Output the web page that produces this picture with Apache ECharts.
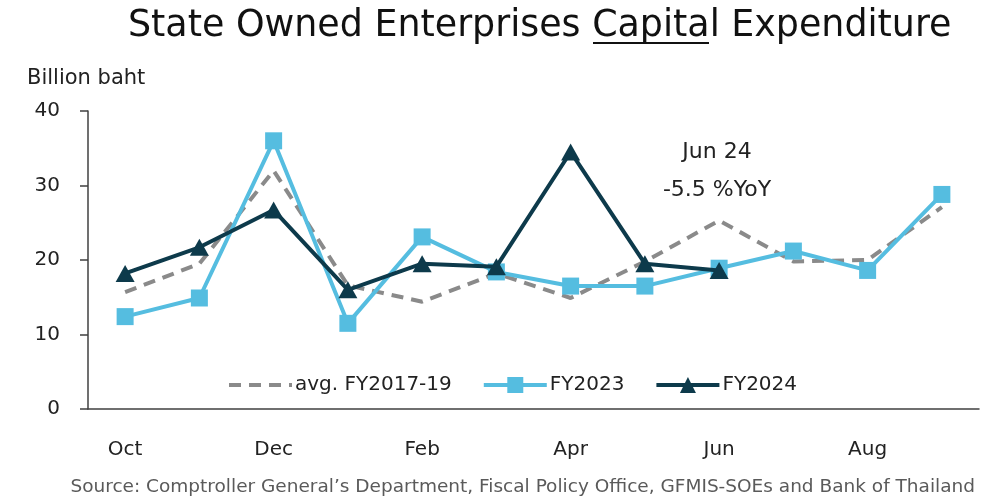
<!DOCTYPE html>
<html>
<head>
<meta charset="utf-8">
<script src="https://cdn.jsdelivr.net/npm/echarts@6/dist/echarts.min.js"></script>
<style>
  html, body { margin: 0; padding: 0; background: #fff; }
  #chart { width: 981px; height: 502px; }
</style>
</head>
<body>
<div id="chart"></div>
<script>
// fiscal year months, Oct..Sep
const months = ['Oct', 'Nov', 'Dec', 'Jan', 'Feb', 'Mar', 'Apr', 'May', 'Jun', 'Jul', 'Aug', 'Sep'];
const avg1719 = [15.7, 19.5, 32.0, 16.6, 14.4, 18.2, 14.9, 19.8, 25.3, 19.8, 20.0, 27.1];
const fy2023 = [12.4, 14.9, 36.0, 11.5, 23.1, 18.4, 16.5, 16.5, 18.9, 21.2, 18.6, 28.8];
const fy2024 = [18.2, 21.7, 26.7, 16.0, 19.5, 19.1, 34.5, 19.5, 18.6, null, null, null];
const yTicks = [0, 10, 20, 30, 40];

const FONT = '"DejaVu Sans", Tahoma, sans-serif';
const BLUE = '#55bde0';
const DARK = '#0d3a4b';
const GREY = '#8a8a8a';

const chart = echarts.init(document.getElementById('chart'), null, { renderer: 'canvas' });

const option = {
    animation: false,
    backgroundColor: '#fff',
    textStyle: { fontFamily: FONT },
    title: {
        text: 'State Owned Enterprises Capital Expenditure',
        left: 123,
        top: 4,
        textStyle: { fontFamily: FONT, fontSize: 36.4, fontWeight: 'normal', color: '#111' },
    },
    graphic: [
        // underline under "Capital"
        { type: 'line', shape: { x1: 593, y1: 43, x2: 709, y2: 43 }, style: { stroke: '#111', lineWidth: 2 } },
        { type: 'text', left: 27, top: 68, style: { text: 'Billion baht', font: '21px ' + FONT, fill: '#222' } },
        { type: 'text', x: 717, y: 152, style: { text: 'Jun 24', font: '22px ' + FONT, fill: '#222', align: 'center', verticalAlign: 'middle' } },
        { type: 'text', x: 717, y: 190, style: { text: '-5.5 %YoY', font: '22px ' + FONT, fill: '#222', align: 'center', verticalAlign: 'middle' } },
        { type: 'text', right: 6, top: 478, style: { text: 'Source: Comptroller General\u2019s Department, Fiscal Policy Office, GFMIS-SOEs and Bank of Thailand', font: '18.5px ' + FONT, fill: '#5a5a5a' } },
    ],
    legend: {
        left: 222,
        top: 370,
        itemWidth: 63,
        itemHeight: 20,
        itemGap: 30,
        textStyle: { fontFamily: FONT, fontSize: 20, color: '#222', padding: [0, 0, 0, -2] },
        data: [
            { name: 'avg. FY2017-19', itemStyle: { opacity: 0 }, lineStyle: { width: 4 } },
            { name: 'FY2023', lineStyle: { width: 4 } },
            { name: 'FY2024', lineStyle: { width: 4 } },
        ],
    },
    grid: { left: 88, right: 2, top: 111, bottom: 93, containLabel: false },
    xAxis: {
        type: 'category',
        data: months,
        boundaryGap: true,
        axisLine: { lineStyle: { color: '#404040', width: 1.5 } },
        axisTick: { interval: 0, length: 8, lineStyle: { color: '#404040', width: 1.5 } },
        axisLabel: { interval: 1, margin: 31, fontSize: 20, color: '#222', fontFamily: FONT },
    },
    yAxis: {
        type: 'value',
        min: yTicks[0],
        max: yTicks[yTicks.length - 1],
        interval: 10,
        splitLine: { show: false },
        axisLine: { show: true, lineStyle: { color: '#404040', width: 1.5 } },
        axisTick: { show: true, length: 8, lineStyle: { color: '#404040', width: 1.5 } },
        axisLabel: { margin: 28, fontSize: 20, color: '#222', fontFamily: FONT },
    },
    series: [
        {
            name: 'avg. FY2017-19',
            type: 'line',
            data: avg1719,
            symbol: 'none',
            lineStyle: { color: GREY, width: 4, type: [12, 8] },
            itemStyle: { color: GREY },
            z: 1,
        },
        {
            name: 'FY2023',
            type: 'line',
            data: fy2023,
            symbol: 'rect',
            symbolSize: 17,
            lineStyle: { color: BLUE, width: 4 },
            itemStyle: { color: BLUE },
            z: 2,
        },
        {
            name: 'FY2024',
            type: 'line',
            data: fy2024,
            symbol: 'triangle',
            symbolSize: [19, 17],
            lineStyle: { color: DARK, width: 4 },
            itemStyle: { color: DARK },
            z: 3,
        },
    ],
};

chart.setOption(option);
</script>
</body>
</html>
